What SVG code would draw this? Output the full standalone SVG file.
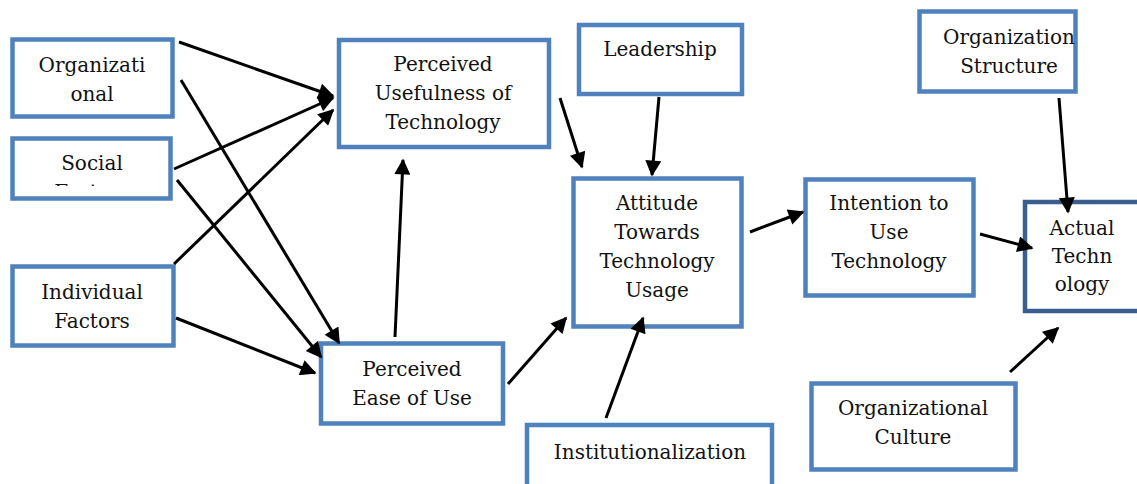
<svg xmlns="http://www.w3.org/2000/svg" width="1137" height="484" viewBox="0 0 1137 484">
<defs>
<style>
.box{fill:#fff;stroke:#4f81bd;stroke-width:4.5}
.dark{stroke:#3a5f8f}
.t{font-family:"DejaVu Serif","Liberation Serif",serif;font-size:20px;fill:#111;text-anchor:middle}
.c line{stroke:#000;stroke-width:3;marker-end:url(#ah)}
</style>
<marker id="ah" viewBox="0 0 10 10" refX="9" refY="5" markerWidth="18" markerHeight="16" markerUnits="userSpaceOnUse" orient="auto">
<path d="M0,0 L10,5 L0,10 z" fill="#000"/>
</marker>
<clipPath id="sfclip"><rect x="14" y="140" width="156" height="46"/></clipPath>
</defs>
<rect width="1137" height="484" fill="#fff"/>

<g id="organizational">
<rect class="box" x="12.5" y="39.5" width="160" height="77"/>
<text class="t" x="92" y="72">Organizati</text>
<text class="t" x="92" y="101">onal</text>
</g>
<g id="social-factors">
<rect class="box" x="12.5" y="138.5" width="158" height="60"/>
<text class="t" x="92" y="170">Social</text>
<text class="t" x="92" y="199" clip-path="url(#sfclip)">Factors</text>
</g>
<g id="individual-factors">
<rect class="box" x="12.5" y="266.5" width="161" height="79"/>
<text class="t" x="92" y="299">Individual</text>
<text class="t" x="92" y="328">Factors</text>
</g>
<g id="perceived-usefulness">
<rect class="box" x="339" y="40" width="210" height="107"/>
<text class="t" x="443" y="71">Perceived</text>
<text class="t" x="443" y="100">Usefulness of</text>
<text class="t" x="443" y="129">Technology</text>
</g>
<g id="perceived-ease">
<rect class="box" x="321" y="343.5" width="182" height="80"/>
<text class="t" x="412" y="376">Perceived</text>
<text class="t" x="412" y="405">Ease of Use</text>
</g>
<g id="leadership">
<rect class="box" x="579" y="25" width="163" height="69"/>
<text class="t" x="660" y="56">Leadership</text>
</g>
<g id="attitude">
<rect class="box" x="573.5" y="178.5" width="168" height="148"/>
<text class="t" x="657" y="210">Attitude</text>
<text class="t" x="657" y="239">Towards</text>
<text class="t" x="657" y="268">Technology</text>
<text class="t" x="657" y="297">Usage</text>
</g>
<g id="intention">
<rect class="box" x="805.5" y="179.5" width="168" height="116"/>
<text class="t" x="889" y="210">Intention to</text>
<text class="t" x="889" y="239">Use</text>
<text class="t" x="889" y="268">Technology</text>
</g>
<g id="organization-structure">
<rect class="box" x="919.5" y="11.5" width="156" height="80"/>
<text class="t" x="1009" y="44">Organization</text>
<text class="t" x="1009" y="73">Structure</text>
</g>
<g id="actual-technology">
<rect class="box dark" x="1025" y="202" width="120" height="109"/>
<text class="t" x="1082" y="235">Actual</text>
<text class="t" x="1082" y="263">Techn</text>
<text class="t" x="1082" y="291">ology</text>
</g>
<g id="organizational-culture">
<rect class="box" x="811.5" y="383.5" width="204" height="86"/>
<text class="t" x="913" y="415">Organizational</text>
<text class="t" x="913" y="444">Culture</text>
</g>
<g id="institutionalization">
<rect class="box" x="527" y="425" width="245" height="80"/>
<text class="t" x="650" y="459">Institutionalization</text>
</g>

<g id="connectors" class="c">
<line x1="179" y1="42" x2="333" y2="96"/>
<line x1="181" y1="80" x2="339" y2="343"/>
<line x1="174" y1="169" x2="333" y2="98"/>
<line x1="177" y1="180" x2="321" y2="357"/>
<line x1="174" y1="264" x2="333" y2="110"/>
<line x1="176" y1="318" x2="315" y2="373"/>
<line x1="395" y1="337" x2="403" y2="160"/>
<line x1="508" y1="384" x2="566" y2="318"/>
<line x1="560" y1="98" x2="582" y2="167"/>
<line x1="659" y1="97" x2="652" y2="175"/>
<line x1="606" y1="418" x2="643" y2="318"/>
<line x1="750" y1="232" x2="803" y2="212"/>
<line x1="980" y1="234" x2="1032" y2="248"/>
<line x1="1059" y1="98" x2="1068" y2="212"/>
<line x1="1010" y1="372" x2="1058" y2="328"/>
</g>
</svg>
